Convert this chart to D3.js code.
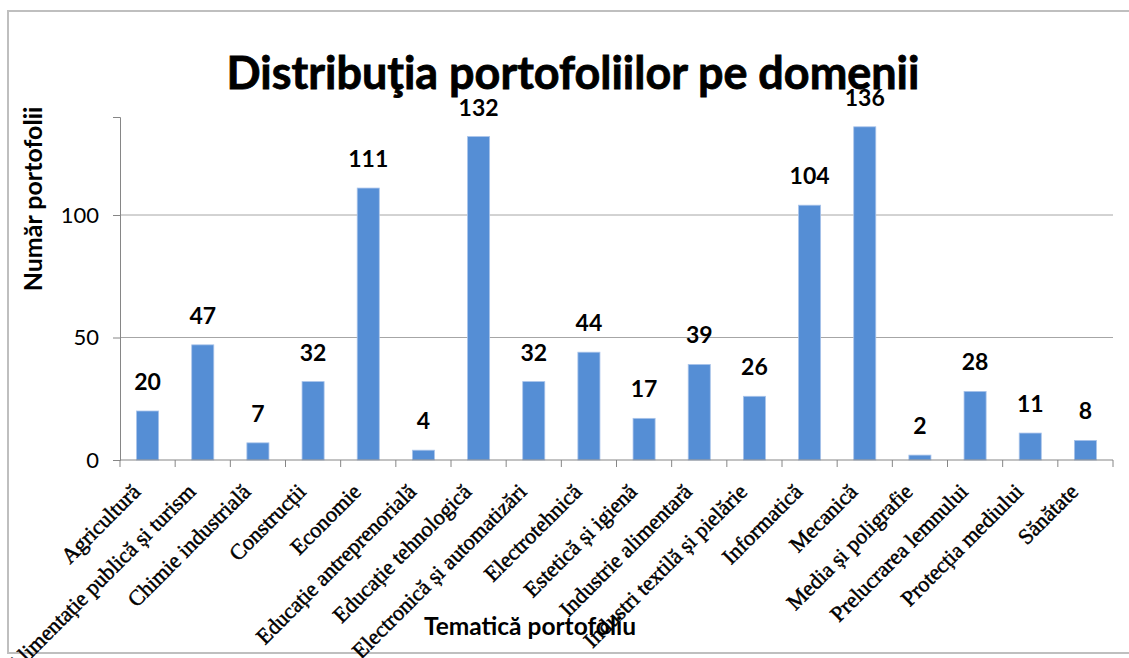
<!DOCTYPE html>
<html>
<head>
<meta charset="utf-8">
<script src="https://cdn.jsdelivr.net/npm/d3@7"></script>
<style>
  body { margin: 0; background: #fff; }
  svg { display: block; }
</style>
</head>
<body>
<div id="chart-area"></div>
<script>
// data
const categories = ['Agricultură', 'Alimentație publică și turism', 'Chimie industrială',
  'Construcții', 'Economie', 'Educație antreprenorială', 'Educație tehnologică',
  'Electronică și automatizări', 'Electrotehnică', 'Estetică și igienă',
  'Industrie alimentară', 'Industri textilă și pielărie', 'Informatică', 'Mecanică',
  'Media și poligrafie', 'Prelucrarea lemnului', 'Protecția mediului', 'Sănătate'];
const counts = [20, 47, 7, 32, 111, 4, 132, 32, 44, 17, 39, 26, 104, 136, 2, 28, 11, 8];
const yTicks = [0, 50, 100];

const W = 1129, H = 658;
const margin = {left: 120, right: 16, top: 117, bottom: 198};
const width = W - margin.left - margin.right;
const height = H - margin.top - margin.bottom;

const svg = d3.select('#chart-area')
  .append('svg')
  .attr('width', W)
  .attr('height', H);

// chart frame
svg.append('rect')
  .attr('x', 8).attr('y', 11)
  .attr('width', 1130).attr('height', 642)
  .attr('fill', 'none')
  .attr('stroke', '#bfbfbf')
  .attr('stroke-width', 2);

const g = svg.append('g')
  .attr('transform', `translate(${margin.left}, ${margin.top})`);

const x = d3.scaleBand()
  .domain(categories)
  .range([0, width])
  .paddingInner(0.6)
  .paddingOuter(0.3);

const y = d3.scaleLinear()
  .domain([0, 140])
  .range([height, 0]);

// gridlines
g.append('g')
  .selectAll('line')
  .data(yTicks.filter(d => d > 0))
  .enter().append('line')
    .attr('x1', 0).attr('x2', width)
    .attr('y1', d => y(d)).attr('y2', d => y(d))
    .attr('stroke', '#a6a6a6')
    .attr('stroke-width', 1);

// Y axis
const yAxisGroup = g.append('g')
  .call(d3.axisLeft(y).tickValues(yTicks).tickSize(7).tickPadding(14));
yAxisGroup.select('.domain').attr('stroke', '#868686');
yAxisGroup.selectAll('.tick line').attr('stroke', '#868686');
yAxisGroup.selectAll('.tick text')
  .attr('font-family', 'Lato, sans-serif')
  .attr('font-size', '22px')
  .attr('fill', '#000');

// bars
g.selectAll('rect.bar')
  .data(counts)
  .enter().append('rect')
    .attr('class', 'bar')
    .attr('x', (d, i) => x(categories[i]))
    .attr('y', d => y(d))
    .attr('width', x.bandwidth())
    .attr('height', d => height - y(d))
    .attr('fill', '#558ed5')
    .attr('stroke', '#a9c4ea')
    .attr('stroke-width', 0.8);

// value labels
g.selectAll('text.value')
  .data(counts)
  .enter().append('text')
    .attr('class', 'value')
    .attr('x', (d, i) => x(categories[i]) + x.bandwidth() / 2)
    .attr('y', d => y(d) - 21)
    .attr('text-anchor', 'middle')
    .attr('font-family', 'Lato, sans-serif')
    .attr('font-weight', 'bold')
    .attr('font-size', '23px')
    .text(d => d);

// X axis: ticks at category boundaries
const step = width / categories.length;
const xAxisGroup = g.append('g')
  .attr('transform', `translate(0, ${height})`);
xAxisGroup.append('line')
  .attr('x1', 0).attr('x2', width)
  .attr('stroke', '#868686');
xAxisGroup.selectAll('line.tk')
  .data(d3.range(categories.length + 1))
  .enter().append('line')
    .attr('class', 'tk')
    .attr('x1', i => i * step).attr('x2', i => i * step)
    .attr('y1', 0).attr('y2', 7)
    .attr('stroke', '#868686');

// rotated category labels
xAxisGroup.selectAll('text.cat')
  .data(categories)
  .enter().append('text')
    .attr('class', 'cat')
    .attr('transform', d => `translate(${x(d) + x.bandwidth() / 2 - 6}, 33) rotate(-45)`)
    .attr('text-anchor', 'end')
    .attr('font-family', '"Liberation Serif", serif')
    .attr('font-size', '22px')
    .attr('fill', '#000')
    .attr('stroke', '#000')
    .attr('stroke-width', 0.5)
    .text(d => d);

// title, sized to the original width
const title = svg.append('text')
  .attr('x', 573)
  .attr('y', 89)
  .attr('text-anchor', 'middle')
  .attr('font-family', 'Lato, sans-serif')
  .attr('font-weight', 'bold')
  .attr('font-size', '40px')
  .attr('stroke', '#000')
  .attr('stroke-width', 0.8)
  .text('Distribuţia portofoliilor pe domenii');
const tw = title.node().getComputedTextLength();
title.attr('font-size', (40 * 693 / tw) + 'px');

// axis titles
svg.append('text')
  .attr('transform', 'translate(42, 199) rotate(-90)')
  .attr('text-anchor', 'middle')
  .attr('font-family', 'Lato, sans-serif')
  .attr('font-weight', 'bold')
  .attr('font-size', '25px')
  .text('Număr portofolii');

svg.append('text')
  .attr('x', 530)
  .attr('y', 635)
  .attr('text-anchor', 'middle')
  .attr('font-family', 'Lato, sans-serif')
  .attr('font-weight', 'bold')
  .attr('font-size', '24.5px')
  .text('Tematică portofoliu');
</script>
</body>
</html>
